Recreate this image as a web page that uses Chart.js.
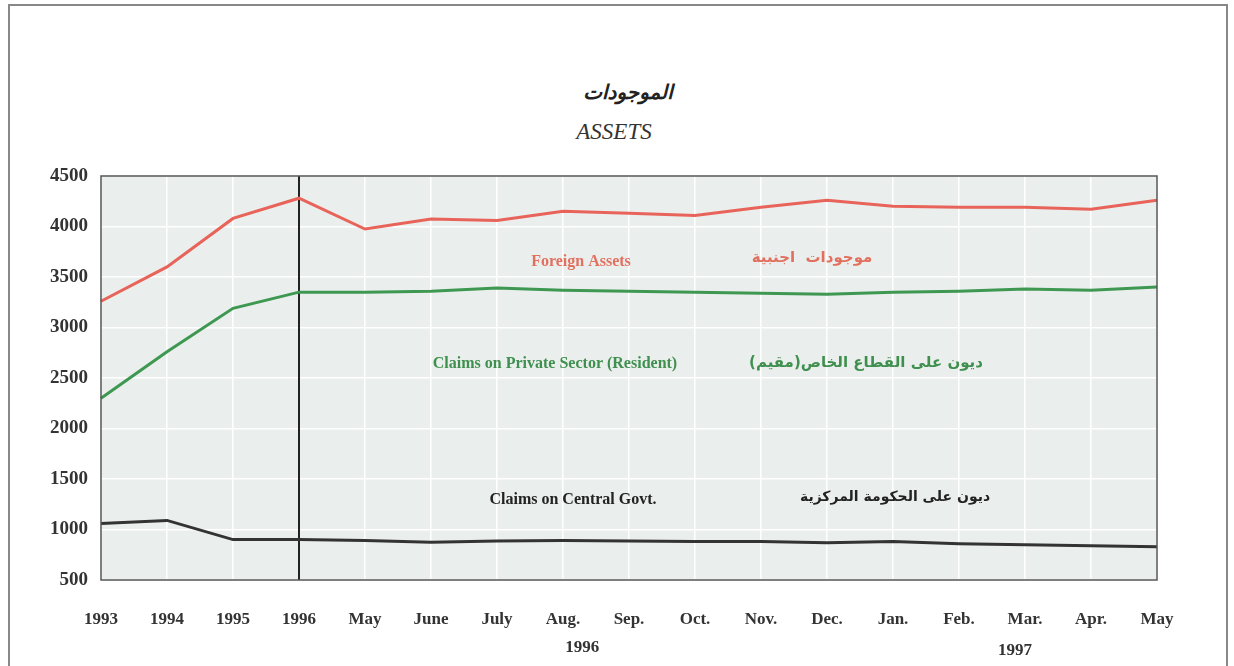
<!DOCTYPE html>
<html>
<head>
<meta charset="utf-8">
<script src="https://cdn.jsdelivr.net/npm/chart.js@4.4.0/dist/chart.umd.min.js"></script>
<style>
  html, body { margin:0; padding:0; background:#fff; width:1234px; height:666px; overflow:hidden; }
  #frame { position:absolute; left:8px; top:4px; width:1220px; height:700px; border:2px solid #888; box-sizing:border-box; }
  #wrap { position:absolute; left:0; top:0; width:1234px; height:666px; }
  .t { position:absolute; white-space:nowrap; transform:translateX(-50%); }
</style>
</head>
<body>
<div id="frame"></div>
<div class="t" style="left:628px; top:80px; font-family:'DejaVu Sans'; font-weight:bold; font-style:italic; font-size:20px; color:#222;" dir="rtl">الموجودات</div>
<div class="t" style="left:614px; top:119px; font-family:'Liberation Serif'; font-style:italic; font-size:23px; color:#333;">ASSETS</div>
<div id="wrap"><canvas id="c" width="1234" height="666"></canvas></div>
<script>
const categories = ['1993','1994','1995','1996','May','June','July','Aug.','Sep.','Oct.','Nov.','Dec.','Jan.','Feb.','Mar.','Apr.','May'];
const foreignAssets = [3260,3600,4080,4280,3975,4075,4060,4150,4130,4110,4190,4260,4200,4190,4190,4170,4260];
const privateSector = [2300,2760,3190,3350,3350,3360,3390,3370,3360,3350,3340,3330,3350,3360,3380,3370,3400];
const centralGovt   = [1060,1090,900,900,890,875,885,890,885,880,880,870,880,860,850,840,830];
const yTicks = [500,1000,1500,2000,2500,3000,3500,4000,4500];

const serif = "'Liberation Serif', 'Times New Roman', serif";
const arab = "'DejaVu Sans', sans-serif";

const annotations = [
  {text:'Foreign Assets', x:581, y:262, color:'#e2705f', font:'bold 16px ' + serif},
  {text:'موجودات  اجنبية', x:812, y:258, color:'#e2705f', font:'bold 15px ' + arab},
  {text:'Claims on Private Sector (Resident)', x:555, y:364, color:'#3f8f4f', font:'bold 16px ' + serif},
  {text:'ديون على القطاع الخاص(مقيم)', x:866, y:363, color:'#3f8f4f', font:'bold 15px ' + arab},
  {text:'Claims on Central Govt.', x:573, y:500, color:'#222', font:'bold 16px ' + serif},
  {text:'ديون على الحكومة المركزية', x:895, y:497, color:'#222', font:'bold 14px ' + arab}
];

const bgPlugin = {
  id:'bg',
  beforeDraw(chart){
    const {ctx, chartArea:a} = chart;
    ctx.save(); ctx.fillStyle = '#eaefed';
    ctx.fillRect(a.left, a.top, a.right-a.left, a.bottom-a.top);
    ctx.restore();
  },
  beforeDatasetsDraw(chart){
    const {ctx, chartArea:a, scales} = chart;
    const x = scales.x.getPixelForValue(3);
    ctx.save(); ctx.strokeStyle = '#222'; ctx.lineWidth = 2;
    ctx.beginPath(); ctx.moveTo(x, a.top); ctx.lineTo(x, a.bottom); ctx.stroke();
    ctx.restore();
  },
  afterDraw(chart){
    const {ctx, chartArea:a, scales} = chart;
    ctx.save();
    ctx.strokeStyle = '#555'; ctx.lineWidth = 1.5;
    ctx.strokeRect(a.left, a.top, a.right-a.left, a.bottom-a.top);
    ctx.textAlign = 'center'; ctx.textBaseline = 'middle';
    annotations.forEach(t => { ctx.font = t.font; ctx.fillStyle = t.color; ctx.fillText(t.text, t.x, t.y); });
    ctx.font = 'bold 17px ' + serif; ctx.fillStyle = '#333';
    const step = scales.x.getPixelForValue(1) - scales.x.getPixelForValue(0);
    ctx.fillText('1996', scales.x.getPixelForValue(7) + 0.29*step, 648);
    ctx.fillText('1997', scales.x.getPixelForValue(14) - 0.15*step, 651);
    ctx.restore();
  }
};

new Chart(document.getElementById('c'), {
  type:'line',
  data:{
    labels: categories,
    datasets:[
      {label:'Foreign Assets', data:foreignAssets, borderColor:'#e8645a', borderWidth:3},
      {label:'Claims on Private Sector (Resident)', data:privateSector, borderColor:'#3f9852', borderWidth:3},
      {label:'Claims on Central Govt.', data:centralGovt, borderColor:'#333', borderWidth:3}
    ]
  },
  options:{
    responsive:false, animation:false,
    layout:{padding:{left:0, right:77, top:176, bottom:36}},
    elements:{point:{radius:0}, line:{tension:0}},
    plugins:{legend:{display:false}, tooltip:{enabled:false}},
    scales:{
      x:{
        offset:false,
        grid:{color:'#ffffff', lineWidth:1.5, drawTicks:false},
        border:{display:false},
        ticks:{autoSkip:false, maxRotation:0, padding:29, color:'#333', font:{family:serif, weight:'bold', size:17}},
        afterFit(s){ s.height = 50; }
      },
      y:{
        min:500, max:4500,
        afterBuildTicks(s){ s.ticks = yTicks.map(v => ({value:v})); },
        grid:{color:'#ffffff', lineWidth:1.5, drawTicks:false},
        border:{display:false},
        ticks:{padding:13, color:'#333', font:{family:serif, weight:'bold', size:19}, callback:(v) => String(v)},
        afterFit(s){ s.width = 101; }
      }
    }
  },
  plugins:[bgPlugin]
});
</script>
</body>
</html>
